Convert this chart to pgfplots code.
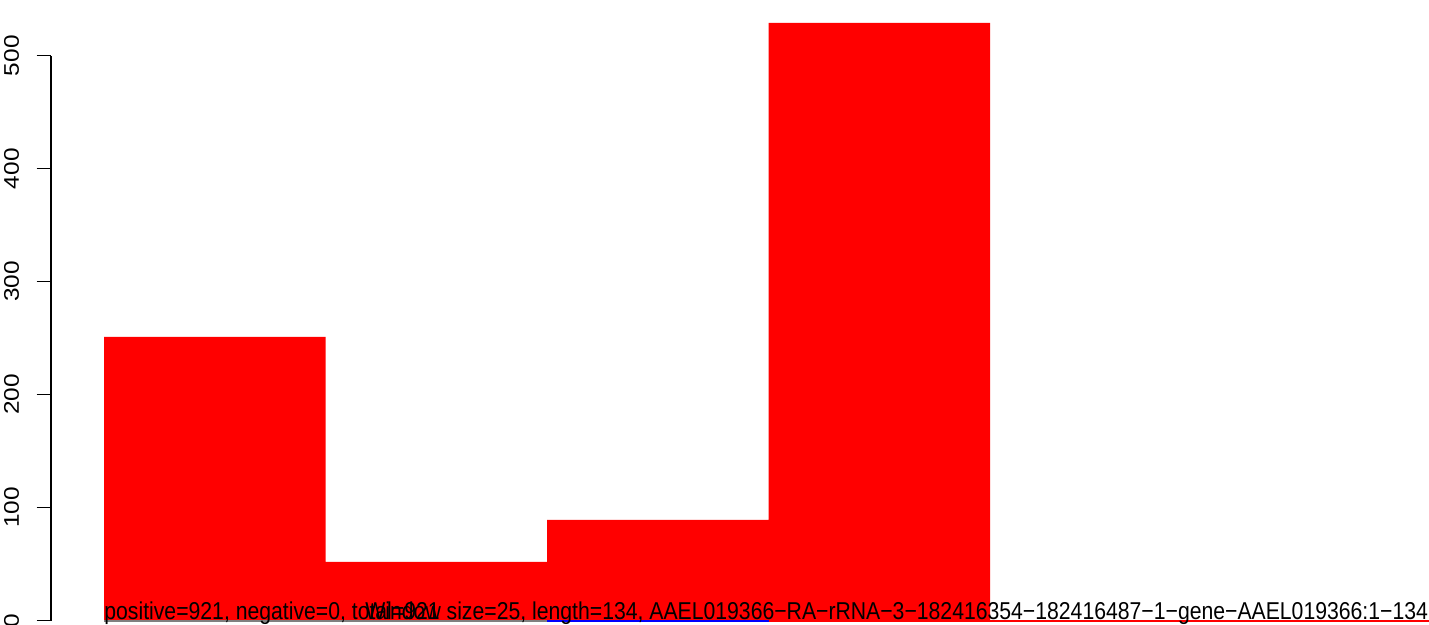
\documentclass[border=0pt]{standalone}
\usepackage{fontspec}
\setmainfont{Liberation Sans}
\usepackage{graphicx}
\usepackage{pgfplots}
\pgfplotsset{compat=1.18}
\begin{document}
\fontsize{10.6bp}{12bp}\selectfont
\begin{tikzpicture}
\begin{axis}[name=main, at={(0,0)}, anchor=south west, scale only axis,
  width=714.5bp, height=312.5bp,
  xmin=-11.74, xmax=149.55, ymin=-3.98, ymax=549.3,
  axis lines=none, clip=false]
\addplot[ybar interval, fill=red, draw=none] coordinates {(0,251) (25,52) (50,89) (75,529) (100,529)};
\addplot[gray, line width=0.75bp] coordinates {(0,-0.5) (50,-0.5)};
\addplot[blue, line width=0.75bp] coordinates {(50,-0.5) (75,-0.5)};
\addplot[red, line width=0.75bp] coordinates {(75,-0.5) (149.55,-0.5)};
\node[anchor=base west, inner sep=0pt, font=\fontsize{10.6bp}{12bp}\selectfont] at (axis cs:0,1.33) {\scalebox{1}[1.15]{positive=921, negative=0, total=921}};
\node[anchor=base west, inner sep=0pt, font=\fontsize{10.6bp}{12bp}\selectfont] at (axis cs:29.46,1.33) {\scalebox{1}[1.15]{Window size=25, length=134, AAEL019366−RA−rRNA−3−182416354−182416487−1−gene−AAEL019366:1−134}};
\end{axis}
\begin{axis}[at={(25.5bp,2.25bp)}, anchor=south west, scale only axis,
  width=20bp, height=282.4bp,
  xmin=0, xmax=1, ymin=0, ymax=500,
  hide x axis, axis y line*=left,
  ytick={0,100,200,300,400,500},
  tick align=outside, major tick length=7.2bp,
  axis line style={line width=0.6bp, black},
  every tick/.style={black, line width=0.6bp},
  yticklabel={\scalebox{1.15}[1]{\pgfmathprintnumber{\tick}}},
  yticklabel shift=8.5bp,
  yticklabel style={rotate=90, anchor=south, inner sep=0pt, font=\fontsize{10.6bp}{12bp}\selectfont},
  /pgf/number format/assume math mode=true]
\addplot[draw=none] coordinates {(0,0)};
\end{axis}
\pgfresetboundingbox
\path[use as bounding box] (0,0) rectangle (714.5bp,312.5bp);
\end{tikzpicture}
\end{document}
